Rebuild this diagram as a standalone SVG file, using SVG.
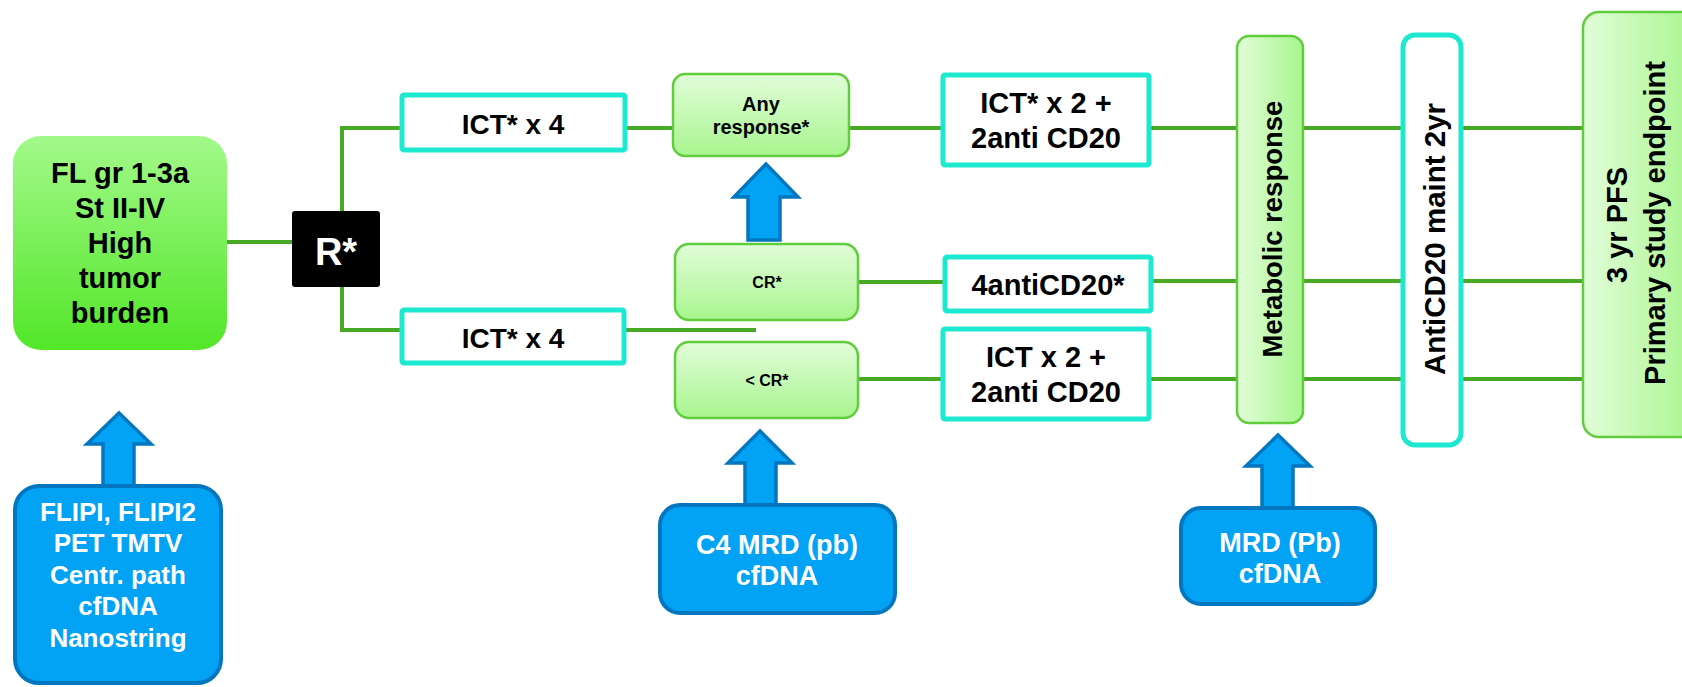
<svg xmlns="http://www.w3.org/2000/svg" width="1682" height="687" viewBox="0 0 1682 687">
<defs>
<linearGradient id="gFL" x1="0" y1="0" x2="0" y2="1"><stop offset="0" stop-color="#a3f98a"/><stop offset="1" stop-color="#52e628"/></linearGradient>
<linearGradient id="gV" x1="0" y1="0" x2="0" y2="1"><stop offset="0" stop-color="#e2fdd9"/><stop offset="1" stop-color="#a8f58e"/></linearGradient>
<linearGradient id="gH" x1="0" y1="0" x2="1" y2="0"><stop offset="0" stop-color="#e2fdd9"/><stop offset="1" stop-color="#a8f58e"/></linearGradient>
<style>
text{font-family:"Liberation Sans",Arial,sans-serif;font-weight:bold;text-anchor:middle}
.conn{stroke:#48a924;stroke-width:4;fill:none}
.cyan{fill:#ffffff;stroke:#1de9d0;stroke-width:5}
.lg{stroke:#5fcd3c;stroke-width:2.5}
.blue{fill:#02a2f5;stroke:#0277c0;stroke-width:4}
.arr{fill:#02a2f5;stroke:#0277c0;stroke-width:3.5;stroke-linejoin:miter}
.dk{fill:#000000}
.wt{fill:#ffffff}
</style>
</defs>
<rect width="1682" height="687" fill="#ffffff"/>
<g id="connectors">
<path class="conn" d="M227 242H292"/>
<path class="conn" d="M400 128H342V330H400"/>
<path class="conn" d="M627 128H673"/>
<path class="conn" d="M849 128H941"/>
<path class="conn" d="M626 330H756"/>
<path class="conn" d="M858 282H943"/>
<path class="conn" d="M858 379H941"/>
<path class="conn" d="M1151 128H1600"/>
<path class="conn" d="M1153 281H1600"/>
<path class="conn" d="M1151 379H1600"/>
</g>
<g id="fl">
<rect x="13" y="136" width="214" height="214" rx="28" fill="url(#gFL)"/>
<g class="dk" font-size="29">
<text x="120" y="183">FL gr 1-3a</text>
<text x="120" y="218">St II-IV</text>
<text x="120" y="253">High</text>
<text x="120" y="288">tumor</text>
<text x="120" y="323">burden</text>
</g>
</g>
<g id="r">
<rect x="292" y="211" width="88" height="76" rx="3" fill="#000000"/>
<text class="wt" x="336" y="265" font-size="38">R*</text>
</g>
<g id="ict4a">
<rect class="cyan" x="402" y="95" width="223" height="55" rx="2"/>
<text class="dk" x="513" y="134" font-size="28">ICT* x 4</text>
</g>
<g id="ict4b">
<rect class="cyan" x="402" y="310" width="222" height="53" rx="2"/>
<text class="dk" x="513" y="348" font-size="28">ICT* x 4</text>
</g>
<g id="any">
<rect class="lg" x="673" y="74" width="176" height="82" rx="12" fill="url(#gV)"/>
<text class="dk" x="761" y="111" font-size="20">Any</text>
<text class="dk" x="761" y="134" font-size="20">response*</text>
</g>
<g id="cr">
<rect class="lg" x="675" y="244" width="183" height="76" rx="14" fill="url(#gV)"/>
<text class="dk" x="767" y="288" font-size="16">CR*</text>
</g>
<g id="ltcr">
<rect class="lg" x="675" y="342" width="183" height="76" rx="14" fill="url(#gV)"/>
<text class="dk" x="767" y="386" font-size="16">&lt; CR*</text>
</g>
<g id="ict2a">
<rect class="cyan" x="943" y="75" width="206" height="90" rx="2"/>
<text class="dk" x="1046" y="113" font-size="29">ICT* x 2 +</text>
<text class="dk" x="1046" y="148" font-size="29">2anti CD20</text>
</g>
<g id="anti4">
<rect class="cyan" x="945" y="257" width="206" height="54" rx="2"/>
<text class="dk" x="1048" y="295" font-size="29">4antiCD20*</text>
</g>
<g id="ict2b">
<rect class="cyan" x="943" y="329" width="206" height="90" rx="2"/>
<text class="dk" x="1046" y="367" font-size="29">ICT x 2 +</text>
<text class="dk" x="1046" y="402" font-size="29">2anti CD20</text>
</g>
<g id="metabolic">
<rect class="lg" x="1237" y="36" width="66" height="387" rx="12" fill="url(#gH)"/>
<text class="dk" font-size="27.5" transform="translate(1282 229) rotate(-90)">Metabolic response</text>
</g>
<g id="maint">
<rect class="cyan" x="1403" y="35" width="58" height="410" rx="12"/>
<text class="dk" font-size="29.5" transform="translate(1445 239) rotate(-90)">AntiCD20 maint 2yr</text>
</g>
<g id="pfs">
<rect class="lg" x="1583" y="12" width="115" height="425" rx="16" fill="url(#gH)"/>
<text class="dk" font-size="29" transform="translate(1627 225) rotate(-90)">3 yr PFS</text>
<text class="dk" font-size="29" transform="translate(1665 223) rotate(-90)">Primary study endpoint</text>
</g>
<g id="arrow1">
<path class="arr" d="M119 413L151 444H134V486H103V444H87Z"/>
</g>
<g id="arrow2">
<path class="arr" d="M766 164L798 197H780V240H748V197H734Z"/>
</g>
<g id="arrow3">
<path class="arr" d="M760 431L792 463H776V505H745V463H728Z"/>
</g>
<g id="arrow4">
<path class="arr" d="M1278 435L1310 466H1293V508H1262V466H1246Z"/>
</g>
<g id="flipi">
<rect class="blue" x="15" y="486" width="206" height="197" rx="24"/>
<g class="wt" font-size="26">
<text x="118" y="521">FLIPI, FLIPI2</text>
<text x="118" y="552">PET TMTV</text>
<text x="118" y="584">Centr. path</text>
<text x="118" y="615">cfDNA</text>
<text x="118" y="647">Nanostring</text>
</g>
</g>
<g id="c4">
<rect class="blue" x="660" y="505" width="235" height="108" rx="20"/>
<text class="wt" x="777" y="554" font-size="27">C4 MRD (pb)</text>
<text class="wt" x="777" y="585" font-size="27">cfDNA</text>
</g>
<g id="mrd">
<rect class="blue" x="1181" y="508" width="194" height="96" rx="20"/>
<text class="wt" x="1280" y="552" font-size="27">MRD (Pb)</text>
<text class="wt" x="1280" y="583" font-size="27">cfDNA</text>
</g>
</svg>
